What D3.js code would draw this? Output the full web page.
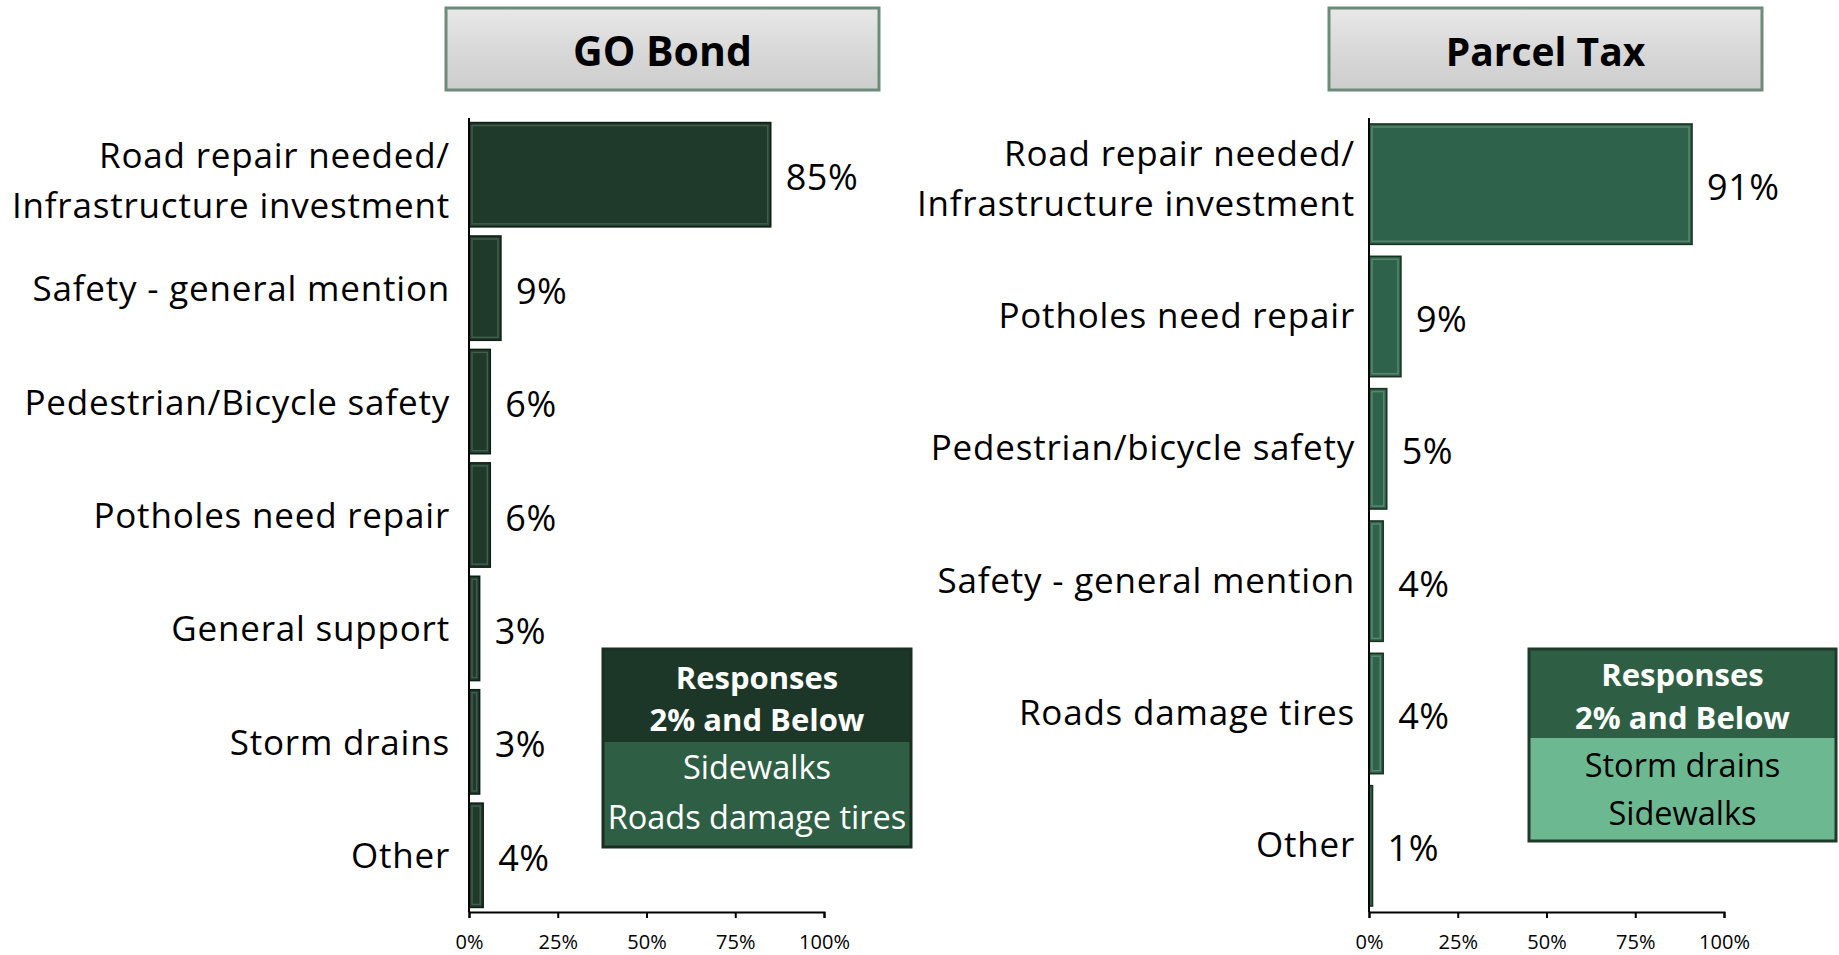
<!DOCTYPE html>
<html><head><meta charset="utf-8">
<script src="https://cdn.jsdelivr.net/npm/d3@7"></script>
<style>
body{margin:0;background:#fff;}
text{font-family:"Open Sans",Lato,sans-serif;}
</style></head>
<body><svg id="c" width="1839" height="955"></svg>
<script>
// ---- data ----
const goCategories = ["Road repair needed/|Infrastructure investment","Safety - general mention","Pedestrian/Bicycle safety","Potholes need repair","General support","Storm drains","Other"];
const goValues = [85,9,6,6,3,3,4];
const ptCategories = ["Road repair needed/|Infrastructure investment","Potholes need repair","Pedestrian/bicycle safety","Safety - general mention","Roads damage tires","Other"];
const ptValues = [91,9,5,4,4,1];
const tickValues = [0,25,50,75,100];
const titles = ["GO Bond","Parcel Tax"];
const goLegendHeader = ["Responses","2% and Below"];
const goLegendItems = ["Sidewalks","Roads damage tires"];
const ptLegendHeader = ["Responses","2% and Below"];
const ptLegendItems = ["Storm drains","Sidewalks"];

const svg = d3.select("#c");
const defs = svg.append("defs");
const tg = defs.append("linearGradient").attr("id","tg").attr("x1",0).attr("y1",0).attr("x2",0).attr("y2",1);
tg.append("stop").attr("offset","0").attr("stop-color","#e8e8e8");
tg.append("stop").attr("offset","0.5").attr("stop-color","#d9d9d9");
tg.append("stop").attr("offset","1").attr("stop-color","#cdcdcd");

function panel(cfg){
  const g = svg.append("g");
  // title box
  g.append("rect").attr("x",cfg.tx).attr("y",8).attr("width",cfg.tw).attr("height",82)
    .attr("fill","url(#tg)").attr("stroke","#6d8b7b").attr("stroke-width",3);
  g.append("text").attr("x",cfg.tx+cfg.tw/2).attr("y",50).attr("text-anchor","middle")
    .attr("dominant-baseline","central").attr("font-weight","bold").attr("font-size",cfg.tfs)
    .text(cfg.title);

  const x = d3.scaleLinear().domain([0,100]).range([cfg.x0, cfg.x0+355]);
  const y = d3.scaleBand().domain(cfg.cats).range([118,912]).paddingInner(cfg.pad).paddingOuter(cfg.pad/2);

  // bars
  const bars = g.selectAll(".bar").data(cfg.vals).enter().append("g");
  bars.append("rect").attr("x",x(0)).attr("y",(d,i)=>y(cfg.cats[i]))
    .attr("width",d=>x(d)-x(0)).attr("height",y.bandwidth())
    .attr("fill",cfg.color).attr("stroke",cfg.stroke).attr("stroke-width",1.5);
  bars.append("rect").attr("x",x(0)+3).attr("y",(d,i)=>y(cfg.cats[i])+3)
    .attr("width",d=>Math.max(0,x(d)-x(0)-6)).attr("height",y.bandwidth()-6)
    .attr("fill","none").attr("stroke",cfg.hi).attr("stroke-width",1.5).attr("opacity",0.45);

  // value labels
  g.selectAll(".val").data(cfg.vals).enter().append("text")
    .attr("x",d=>x(d)+15).attr("y",(d,i)=>y(cfg.cats[i])+y.bandwidth()/2+2)
    .attr("dominant-baseline","central").attr("font-size",36).attr("letter-spacing",0.5).text(d=>d+"%");

  // category labels
  const lab = g.selectAll(".cat").data(cfg.cats).enter().append("text")
    .attr("text-anchor","end").attr("font-size",35).attr("letter-spacing",0.8).attr("x",cfg.x0-cfg.lgap);
  lab.each(function(c){
    const parts = c.split("|");
    const cy = y(c)+y.bandwidth()/2;
    const t = d3.select(this);
    parts.forEach((p,j)=>{
      t.append("tspan").attr("x",cfg.x0-cfg.lgap)
       .attr("y",cy + (j-(parts.length-1)/2)*50 + (parts.length>1?cfg.dy2:cfg.dy1))
       .attr("dominant-baseline","central").text(p);
    });
  });

  // axes
  g.append("line").attr("x1",x(0)).attr("x2",x(0)).attr("y1",118).attr("y2",912)
    .attr("stroke","#000").attr("stroke-width",2);
  const ax = g.append("g").attr("transform","translate(0,912)")
    .call(d3.axisBottom(x).tickValues(tickValues).tickFormat(d=>d+"%").tickSize(6).tickPadding(17));
  ax.select(".domain").attr("stroke","#000").attr("stroke-width",2);
  ax.selectAll(".tick line").attr("stroke","#000").attr("stroke-width",2);
  ax.selectAll(".tick text").attr("font-size",20).attr("fill","#000").attr("font-family","Open Sans");

  // legend box
  const L = cfg.leg;
  g.append("rect").attr("x",L.x).attr("y",L.y).attr("width",L.w).attr("height",L.h)
    .attr("fill",L.body);
  g.append("rect").attr("x",L.x).attr("y",L.y).attr("width",L.w).attr("height",L.hh)
    .attr("fill",L.head);
  g.append("rect").attr("x",L.x).attr("y",L.y).attr("width",L.w).attr("height",L.h)
    .attr("fill","none").attr("stroke",L.border).attr("stroke-width",3);
  const cx = L.x+L.w/2;
  L.header.forEach((t,i)=>{
    g.append("text").attr("x",cx).attr("y",L.hy[i]).attr("text-anchor","middle")
     .attr("dominant-baseline","central").attr("font-weight","bold").attr("font-size",31)
     .attr("fill","#fff").text(t);
  });
  L.items.forEach((t,i)=>{
    g.append("text").attr("x",cx).attr("y",L.iy[i]).attr("text-anchor","middle")
     .attr("dominant-baseline","central").attr("font-size",32.5)
     .attr("fill",L.itemColor).text(t);
  });
}

panel({title:titles[0], tfs:41, tx:446, tw:433, x0:469, lgap:19, dy1:-0.5, dy2:5, cats:goCategories, vals:goValues, pad:0.08,
  color:"#1f392b", stroke:"#0f1f16", hi:"#6a8a78",
  leg:{x:603,y:649,w:308,h:198,hh:93,head:"#1c3728",body:"#2e5f45",border:"#1a2e22",
       header:goLegendHeader, items:goLegendItems, hy:[677,719], iy:[766,816], itemColor:"#fff"}});
panel({title:titles[1], tfs:39, tx:1329, tw:433, x0:1369, lgap:14, dy1:-2, dy2:-7, cats:ptCategories, vals:ptValues, pad:0.09,
  color:"#2f624a", stroke:"#17301f", hi:"#8bb59d",
  leg:{x:1529,y:649,w:307,h:192,hh:89,head:"#2e5f45",body:"#6cb890",border:"#1e3a2a",
       header:ptLegendHeader, items:ptLegendItems, hy:[674,717], iy:[764,812], itemColor:"#000"}});
</script></body></html>
